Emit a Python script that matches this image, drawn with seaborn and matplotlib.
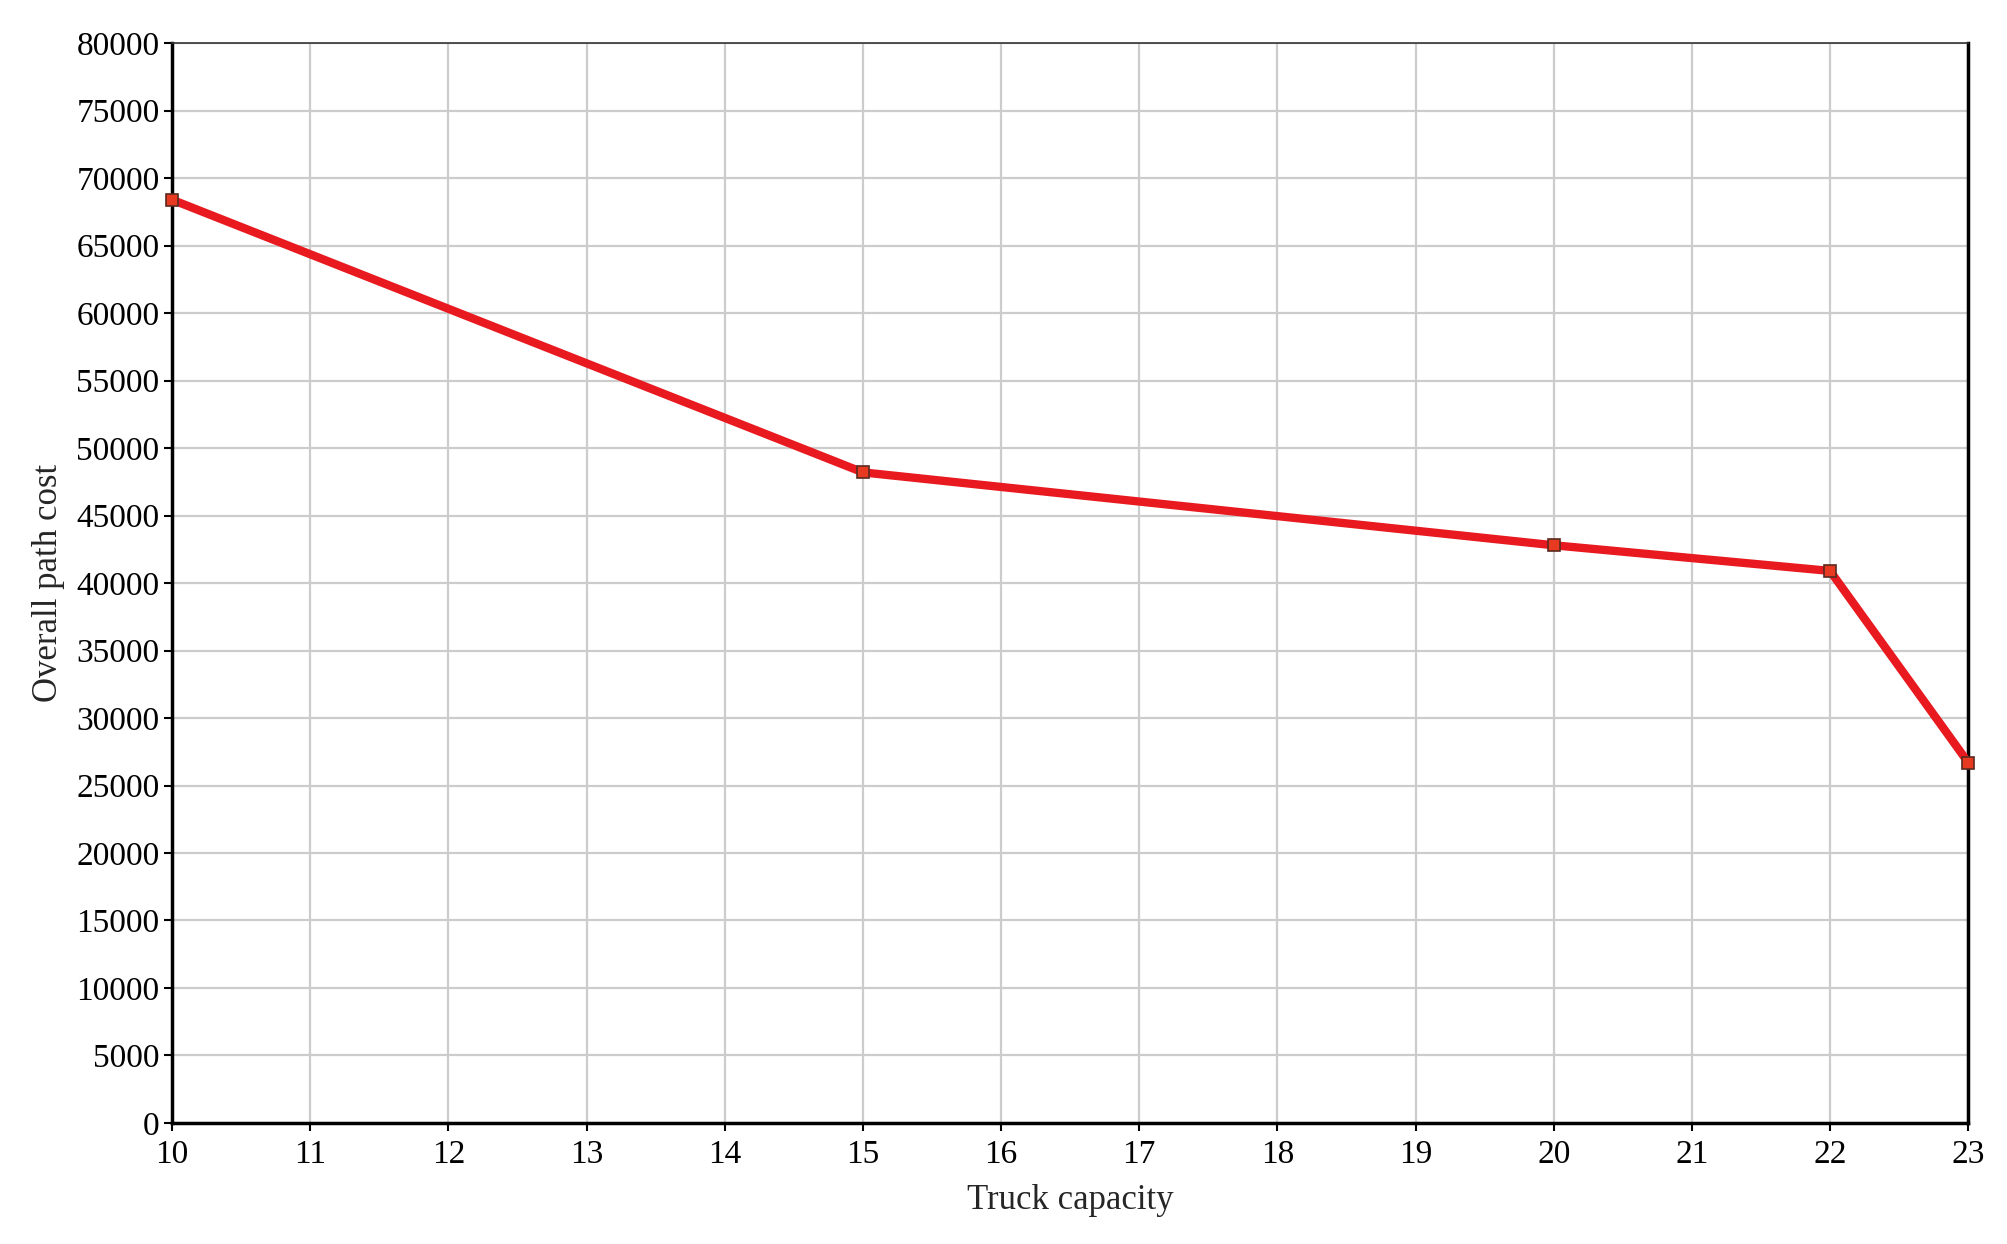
import pandas as pd
import seaborn as sns
import matplotlib.pyplot as plt

# values
capacity = [10, 15, 20, 22, 23]
path_cost = [68400, 48200, 42800, 40900, 26700]
x_ticks = list(range(10, 24))
y_ticks = list(range(0, 80001, 5000))

data = pd.DataFrame({'Truck capacity': capacity, 'Overall path cost': path_cost})

sns.set_style('whitegrid')
plt.rcParams['font.family'] = ['Liberation Serif', 'DejaVu Serif']

fig = plt.figure(figsize=(20.08, 12.44), dpi=100)
ax = fig.add_axes([0.0857, 0.0973, 0.8945, 0.868])

sns.lineplot(x='Truck capacity', y='Overall path cost', data=data, ax=ax,
             color='#e8191f', linewidth=6, marker='s', markersize=9,
             markerfacecolor='#e83a20', markeredgecolor='#5a2a20', markeredgewidth=1.2,
             clip_on=False, zorder=5)

ax.set_xlim(10, 23)
ax.set_ylim(0, 80000)
ax.set_xticks(x_ticks)
ax.set_yticks(y_ticks)
ax.tick_params(axis='both', labelsize=24, colors='black', length=6, width=1.5,
               direction='out', bottom=True, left=True)
ax.tick_params(axis='x', pad=6)
ax.tick_params(axis='y', pad=3)
ax.grid(True, color='#cccccc', linewidth=1.6)
for side in ['left', 'bottom', 'right']:
    ax.spines[side].set_color('black')
    ax.spines[side].set_linewidth(2.5)
ax.spines['top'].set_color('#333333')
ax.spines['top'].set_linewidth(1.2)
ax.set_xlabel('Truck capacity', fontsize=25, labelpad=10)
ax.set_ylabel('Overall path cost', fontsize=25, labelpad=8)

plt.savefig('out.png', dpi=100)
plt.close()
